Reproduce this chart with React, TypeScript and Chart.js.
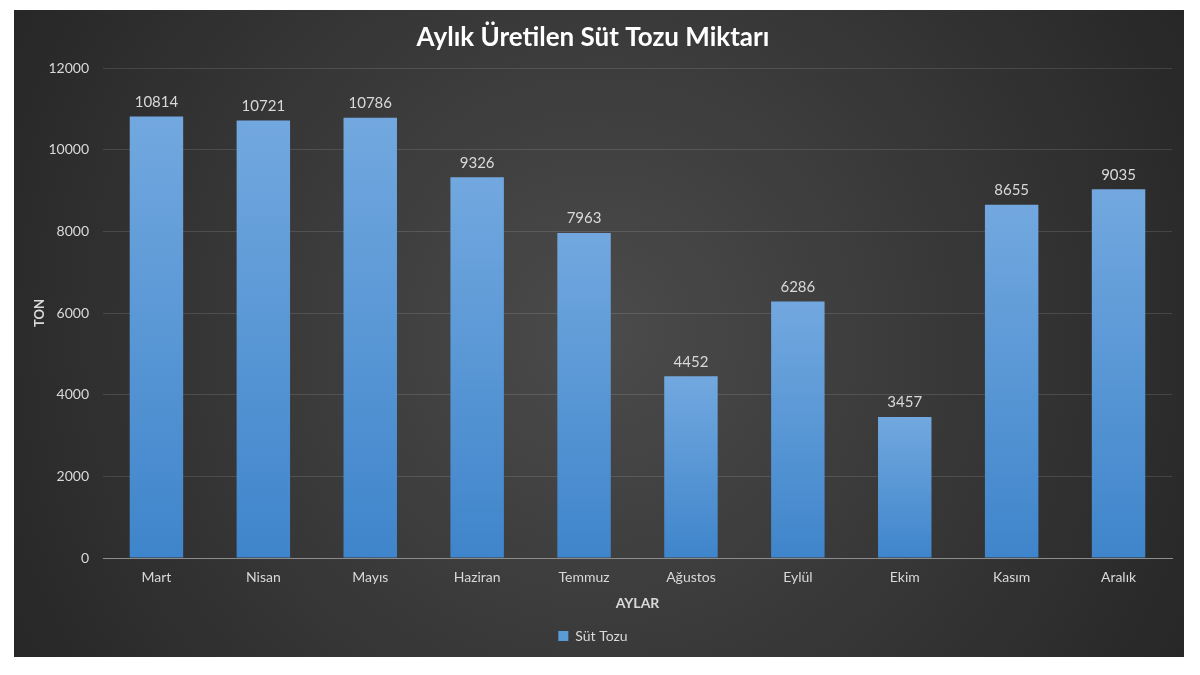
import React, { useEffect, useRef } from 'react';
import { Chart, registerables } from 'chart.js';

Chart.register(...registerables);

const aylar = ['Mart', 'Nisan', 'Mayıs', 'Haziran', 'Temmuz', 'Ağustos', 'Eylül', 'Ekim', 'Kasım', 'Aralık'];
const sutTozu = [10814, 10721, 10786, 9326, 7963, 4452, 6286, 3457, 8655, 9035];
const yTicks = [0, 2000, 4000, 6000, 8000, 10000, 12000];

const FONT = 'Lato, "Open Sans", sans-serif';

// arka plan: koyu radyal gradyan
const bgPlugin = {
  id: 'bg',
  beforeDraw(chart: any) {
    const { ctx, width, height } = chart;
    const g = ctx.createRadialGradient(width / 2, height / 2, 0, width / 2, height / 2, width * 0.6);
    g.addColorStop(0, '#4b4b4b');
    g.addColorStop(1, '#252525');
    ctx.save();
    ctx.fillStyle = g;
    ctx.fillRect(0, 0, width, height);
    ctx.restore();
  },
};

// çubukların üstündeki değerler
const labelPlugin = {
  id: 'vals',
  afterDatasetsDraw(chart: any) {
    const { ctx } = chart;
    const meta = chart.getDatasetMeta(0);
    ctx.save();
    ctx.font = '15px ' + FONT;
    ctx.fillStyle = '#d9d9d9';
    ctx.textAlign = 'center';
    ctx.textBaseline = 'bottom';
    meta.data.forEach((bar: any, i: number) => {
      ctx.fillText(String(sutTozu[i]), bar.x, bar.y - 7);
    });
    ctx.restore();
  },
};

const App: React.FC = () => {
  const chartRef = useRef<HTMLCanvasElement>(null);
  const chartInstance = useRef<Chart | null>(null);

  useEffect(() => {
    if (!chartRef.current) return;
    const ctx = chartRef.current.getContext('2d');
    if (chartInstance.current) chartInstance.current.destroy();

    chartInstance.current = new Chart(ctx as CanvasRenderingContext2D, {
      type: 'bar',
      data: {
        labels: aylar,
        datasets: [
          {
            label: 'Süt Tozu',
            data: sutTozu,
            backgroundColor: (c: any) => {
              const chart = c.chart;
              const area = chart.chartArea;
              if (!area || c.type !== 'data') return '#5b9bd5';
              const y = chart.scales.y;
              const top = y.getPixelForValue(c.raw);
              const bottom = y.getPixelForValue(0);
              const g = chart.ctx.createLinearGradient(0, top, 0, bottom);
              g.addColorStop(0, '#72a8df');
              g.addColorStop(1, '#3f85cb');
              return g;
            },
            borderWidth: 0,
            categoryPercentage: 1,
            barPercentage: 0.5,
          },
        ],
      },
      options: {
        animation: false,
        responsive: false,
        layout: { padding: { left: 0, right: 12, top: 0, bottom: 4 } },
        plugins: {
          title: {
            display: true,
            text: 'Aylık Üretilen Süt Tozu Miktarı',
            color: '#ffffff',
            font: { family: FONT, size: 26, weight: 'bold' },
            padding: { top: 12, bottom: 15 },
          },
          legend: {
            position: 'bottom',
            labels: {
              color: '#d9d9d9',
              font: { family: FONT, size: 14 },
              boxWidth: 10,
              boxHeight: 10,
              padding: 10,
              generateLabels: () => [
                { text: 'Süt Tozu', fillStyle: '#5b9bd5', strokeStyle: '#5b9bd5', lineWidth: 0, fontColor: '#d9d9d9' } as any,
              ],
            },
          },
          tooltip: { enabled: false },
        },
        scales: {
          x: {
            grid: { display: false, drawTicks: false },
            border: { color: '#8c8c8c', width: 1 },
            ticks: { color: '#d9d9d9', font: { family: FONT, size: 14 }, padding: 11 },
            title: {
              display: true,
              text: 'AYLAR',
              color: '#d9d9d9',
              font: { family: FONT, size: 14, weight: 'bold' },
              padding: { top: 2, bottom: 7 },
            },
            afterFit: (s: any) => {
              s.height = 61;
            },
          },
          y: {
            min: 0,
            max: 12000,
            afterBuildTicks: (s: any) => {
              s.ticks = yTicks.map((v) => ({ value: v }));
            },
            grid: { color: 'rgba(255,255,255,0.12)', drawTicks: false },
            border: { display: false },
            ticks: {
              color: '#d9d9d9',
              font: { family: FONT, size: 14 },
              padding: 14,
              callback: (v: any) => String(v),
            },
            title: {
              display: true,
              text: 'TON',
              color: '#d9d9d9',
              font: { family: FONT, size: 13, weight: 'bold' },
              padding: { top: 18, bottom: 4 },
            },
            afterFit: (s: any) => {
              s.width = 89;
            },
          },
        },
      },
      plugins: [bgPlugin, labelPlugin],
    });

    return () => {
      if (chartInstance.current) {
        chartInstance.current.destroy();
        chartInstance.current = null;
      }
    };
  }, []);

  return (
    <div style={{ position: 'fixed', left: 0, top: 0, width: 1200, height: 675, background: '#ffffff' }}>
      <canvas
        ref={chartRef}
        width={1170}
        height={647}
        style={{ position: 'absolute', left: 14, top: 10, width: 1170, height: 647 }}
      />
    </div>
  );
};

export default App;
